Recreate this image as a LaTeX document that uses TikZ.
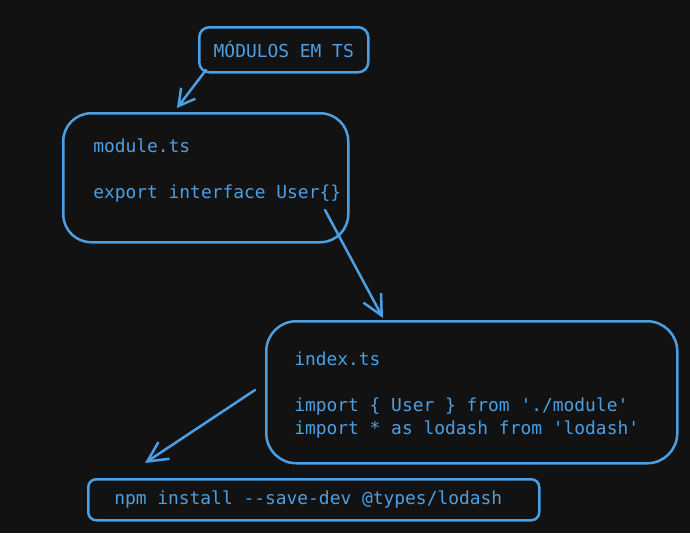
\documentclass[tikz,border=0pt]{standalone}
\usepackage{fontspec}
\setmonofont{DejaVu Sans Mono}
\usetikzlibrary{arrows.meta}
\definecolor{fundo}{HTML}{121212}
\definecolor{azul}{HTML}{4D9FE3}
\tikzset{
  caixa/.style={draw=azul, line width=2.5pt, text=azul, anchor=north west,
    font=\ttfamily\fontsize{17.9}{23}\selectfont, align=flush left},
  seta/.style={draw=azul, line width=2.5pt, line cap=round}
}
\begin{document}
\begin{tikzpicture}[x=1pt, y=-1pt, >={Straight Barb[length=20pt, width=20pt, line width=2.5pt]}]
% Fundo
\fill[fundo] (0,0) rectangle (690,533);
\useasboundingbox (0,0) rectangle (690,533);
% Titulo
\node[caixa, align=center, rounded corners=10pt, minimum width=169pt,
  minimum height=45pt, inner sep=0pt] (titulo) at (198,26) {MÓDULOS EM TS};
% module.ts
\node[caixa, rounded corners=28pt, minimum height=129pt, inner xsep=30pt,
  text width=225pt] (modulo) at (62,112)
  {\rule{0pt}{19pt}module.ts\\ \mbox{}\\ \mbox{export interface User\{\}}\\ \mbox{}};
% index.ts
\node[caixa, rounded corners=30pt, minimum height=142pt, inner xsep=28pt,
  text width=355pt] (indice) at (265,320)
  {\rule{0pt}{19pt}index.ts\\ \mbox{}\\ \mbox{import \{ User \} from './module'}\\
   \mbox{import * as lodash from 'lodash'}};
% npm
\node[caixa, rounded corners=8pt, minimum height=41pt, inner xsep=26pt,
  text width=399pt] (npm) at (87,478) {\mbox{npm install --save-dev @types/lodash}};
% Setas
\coordinate (s1) at (206,70);
\coordinate (f1) at (177,108);
\coordinate (s2) at (325,210);
\coordinate (f2) at (383,318);
\coordinate (s3) at (255,390);
\coordinate (f3) at (145,463);
\draw[seta, ->, >={Straight Barb[length=16pt, width=18pt, line width=2.5pt]}] (s1) -- (f1);
\draw[seta, ->] (s2) -- (f2);
\draw[seta, ->] (s3) -- (f3);
\end{tikzpicture}
\end{document}
